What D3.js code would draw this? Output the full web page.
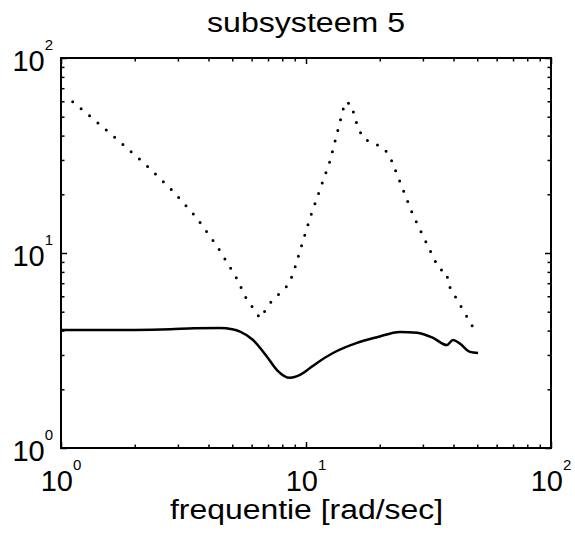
<!DOCTYPE html>
<html>
<head>
<meta charset="utf-8">
<script src="https://cdn.jsdelivr.net/npm/d3@7"></script>
<style>
  html, body { margin: 0; padding: 0; background: #fff; }
  svg { display: block; }
  text { font-family: "Liberation Sans", Arial, Helvetica, sans-serif; fill: #000; }
</style>
</head>
<body>
<svg id="chart" width="575" height="543"></svg>
<script>
// ---- data ----
const title = "subsysteem 5";
const xLabel = "frequentie [rad/sec]";
const majorTicks = [1, 10, 100];
const tickExponents = ["0", "1", "2"];

// dotted series (frequency [rad/sec], magnitude)
const dottedFreq = [1.116, 1.326, 1.725, 2.223, 2.839, 3.556, 4.334, 5.179, 5.69, 6.49, 7.20, 8.44, 8.85, 10.38, 12.53, 13.63, 14.43, 15.27, 16.30, 17.25, 20.82, 22.23, 27.33, 34.9, 37.6, 37.98, 42.1, 49.9];
const dottedVal  = [59.7, 49.8, 37.5, 28.3, 21.0, 15.3, 10.86, 7.53, 5.88, 4.64, 5.61, 6.85, 7.80, 15.12, 29.6, 44.8, 59.5, 58.1, 43.8, 38.4, 34.6, 30.3, 15.66, 8.28, 7.99, 6.93, 5.54, 3.84];

// solid series
const solidFreq = [1.0, 2.0, 2.8, 3.5, 4.46, 5.0, 5.38, 6.08, 6.93, 7.61, 8.61, 9.45, 10.38, 11.09, 12.89, 16.15, 19.49, 24.2, 28.4, 33.0, 37.6, 39.8, 42.5, 46.7, 50.4];
const solidVal  = [4.03, 4.03, 4.06, 4.11, 4.12, 4.06, 3.95, 3.58, 2.94, 2.51, 2.29, 2.37, 2.57, 2.73, 3.07, 3.46, 3.70, 3.94, 3.90, 3.67, 3.37, 3.58, 3.43, 3.11, 3.07];

// ---- layout ----
const svg = d3.select("#chart");
const L = 61, R = 551, T = 58, B = 448;
const x = d3.scaleLog().domain([1, 100]).range([L, R]);
const y = d3.scaleLog().domain([1, 100]).range([B, T]);

const minorTicks = [];
[1, 10].forEach(d => { for (let k = 2; k <= 9; k++) minorTicks.push(k * d); });

function drawAxis(gen, tx, ty, vals, len) {
  const g = svg.append("g").attr("transform", `translate(${tx},${ty})`)
    .call(gen.tickValues(vals).tickSize(-len).tickFormat(""));
  g.select(".domain").remove();
  g.selectAll(".tick line").attr("stroke", "#000").attr("stroke-width", 1.5);
  return g;
}
[[majorTicks, 6], [minorTicks, 3.5]].forEach(([vals, len]) => {
  drawAxis(d3.axisBottom(x), 0, B, vals, len);
  drawAxis(d3.axisTop(x), 0, T, vals, len);
  drawAxis(d3.axisLeft(y), L, 0, vals, len);
  drawAxis(d3.axisRight(y), R, 0, vals, len);
});

// frame
svg.append("rect").attr("x", L).attr("y", T).attr("width", R - L).attr("height", B - T)
  .attr("fill", "none").attr("stroke", "#000").attr("stroke-width", 2);

// curves
const line = d3.line().x(d => x(d[0])).y(d => y(d[1]));
svg.append("path")
  .datum(dottedFreq.map((f, i) => [f, dottedVal[i]]))
  .attr("d", line)
  .attr("fill", "none").attr("stroke", "#000").attr("stroke-width", 3)
  .attr("stroke-linecap", "round").attr("stroke-dasharray", "0 11");

svg.append("path")
  .datum(solidFreq.map((f, i) => [f, solidVal[i]]))
  .attr("d", d3.line().x(d => x(d[0])).y(d => y(d[1])).curve(d3.curveMonotoneX))
  .attr("fill", "none").attr("stroke", "#000").attr("stroke-width", 2.5)
  .attr("stroke-linejoin", "round");

// y tick labels
majorTicks.forEach((v, i) => {
  const t = svg.append("text").attr("x", 53).attr("y", y(v) + 13)
    .attr("text-anchor", "end").style("font-size", "29px");
  t.append("tspan").text("10");
  t.append("tspan").attr("dy", -21).style("font-size", "15px").text(tickExponents[i]);
});

// x tick labels
majorTicks.forEach((v, i) => {
  const t = svg.append("text").attr("x", x(v)).attr("y", 491)
    .attr("text-anchor", "middle").style("font-size", "29px");
  t.append("tspan").text("10");
  t.append("tspan").attr("dy", -21).style("font-size", "15px").text(tickExponents[i]);
});

// title
svg.append("text").attr("x", (L + R) / 2).attr("y", 32).attr("text-anchor", "middle")
  .style("font-size", "27px").attr("textLength", 198).attr("lengthAdjust", "spacingAndGlyphs")
  .text(title);

// x label
svg.append("text").attr("x", 306.5).attr("y", 519).attr("text-anchor", "middle")
  .style("font-size", "27px").attr("textLength", 273).attr("lengthAdjust", "spacingAndGlyphs")
  .text(xLabel);
</script>
</body>
</html>
